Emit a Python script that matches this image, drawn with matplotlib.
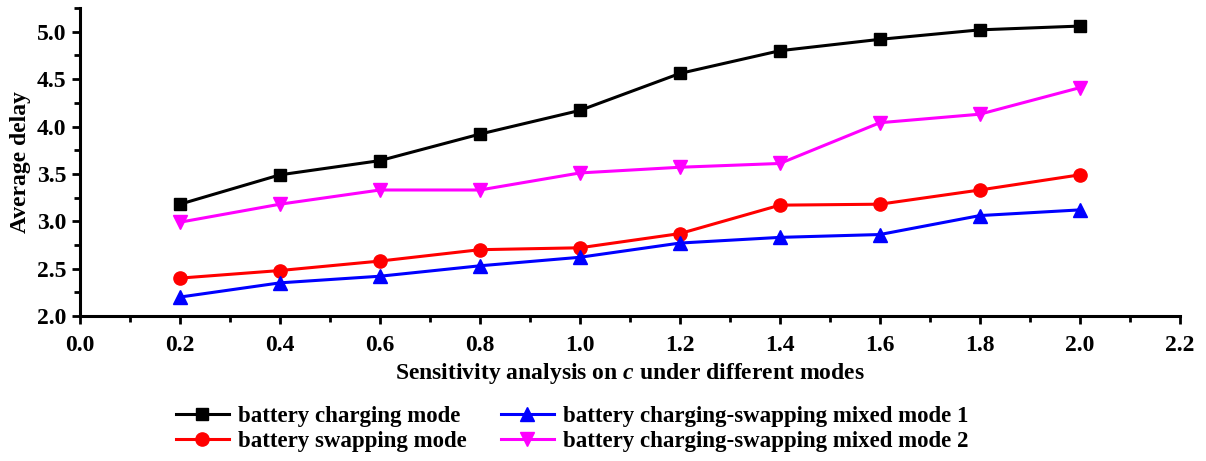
import matplotlib
matplotlib.use("Agg")
import matplotlib.pyplot as plt
from matplotlib.ticker import MultipleLocator, FormatStrFormatter

c_values = [0.2, 0.4, 0.6, 0.8, 1.0, 1.2, 1.4, 1.6, 1.8, 2.0]
charging = [3.18, 3.49, 3.64, 3.92, 4.17, 4.56, 4.80, 4.92, 5.02, 5.06]
swapping = [2.40, 2.48, 2.58, 2.70, 2.72, 2.87, 3.17, 3.18, 3.33, 3.49]
mixed_1 = [2.20, 2.35, 2.42, 2.53, 2.62, 2.77, 2.83, 2.86, 3.06, 3.12]
mixed_2 = [2.99, 3.18, 3.33, 3.33, 3.51, 3.57, 3.61, 4.04, 4.13, 4.41]

plt.rcParams["font.family"] = ["Liberation Serif", "DejaVu Serif"]
plt.rcParams["font.weight"] = "bold"
plt.rcParams["mathtext.fontset"] = "custom"
plt.rcParams["mathtext.bfit"] = "Liberation Serif:italic:bold"
plt.rcParams["mathtext.it"] = "Liberation Serif:italic:bold"

fs = 17

fig = plt.figure(figsize=(12.06, 4.61), dpi=100)
ax = fig.add_axes([0.0663, 0.3145, 0.912, 0.668])

l1, = ax.plot(c_values, charging, color="black", marker="s", markersize=8, linewidth=2.2,
              label="battery charging mode")
l2, = ax.plot(c_values, swapping, color="red", marker="o", markersize=9.5, linewidth=2.2,
              label="battery swapping mode")
l3, = ax.plot(c_values, mixed_1, color="blue", marker="^", markersize=9.5, linewidth=2.2,
              label="battery charging-swapping mixed mode 1")
l4, = ax.plot(c_values, mixed_2, color="magenta", marker="v", markersize=9.5, linewidth=2.2,
              label="battery charging-swapping mixed mode 2")

ax.set_xlim(0.0, 2.2)
ax.set_ylim(2.0, 5.25)
ax.xaxis.set_major_locator(MultipleLocator(0.2))
ax.xaxis.set_minor_locator(MultipleLocator(0.1))
ax.yaxis.set_major_locator(MultipleLocator(0.5))
ax.yaxis.set_minor_locator(MultipleLocator(0.25))
ax.xaxis.set_major_formatter(FormatStrFormatter("%.1f"))
ax.yaxis.set_major_formatter(FormatStrFormatter("%.1f"))

for side in ("top", "right"):
    ax.spines[side].set_visible(False)
for side in ("left", "bottom"):
    ax.spines[side].set_linewidth(2.2)
ax.tick_params(which="major", direction="out", length=6, width=2, labelsize=fs)
ax.tick_params(axis="x", which="major", pad=8)
ax.tick_params(axis="y", which="major", pad=4)
ax.tick_params(which="minor", direction="out", length=4, width=2)

ax.set_xlabel("Sensitivity analysis on $\\mathit{c}$ under different modes", fontsize=fs,
              fontweight="bold", labelpad=3)
ax.set_ylabel("Average delay", fontsize=fs, fontweight="bold", labelpad=4)

fig.legend(handles=[l1, l2, l3, l4], loc="lower left", bbox_to_anchor=(0.146, 0.02),
           ncol=2, frameon=False, fontsize=16.5, handlelength=2.3, columnspacing=1.5,
           handletextpad=0.4, labelspacing=0.15, borderpad=0, borderaxespad=0)

fig.savefig("out.png", dpi=100)
